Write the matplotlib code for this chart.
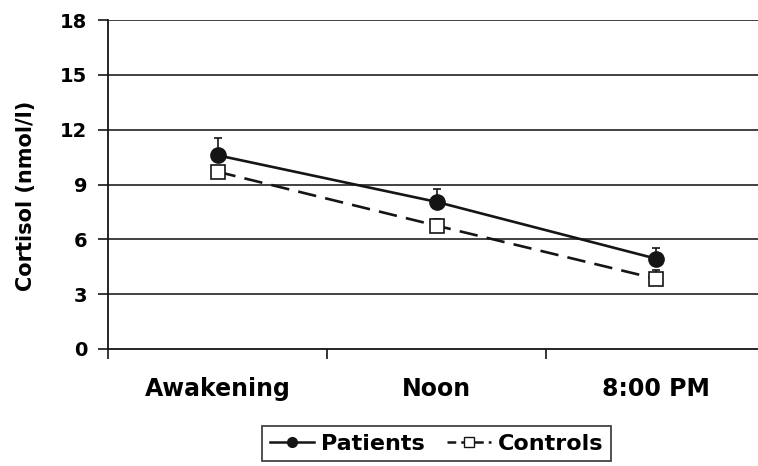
import matplotlib
matplotlib.use("Agg")
import matplotlib.pyplot as plt
import numpy as np
from matplotlib.lines import Line2D

times = ["Awakening", "Noon", "8:00 PM"]
patients = [10.6, 8.05, 4.95]
patients_err = [0.95, 0.7, 0.6]
controls = [9.7, 6.75, 3.85]
controls_err = [0.25, 0.35, 0.45]
yticks = [0, 3, 6, 9, 12, 15, 18]

ink = "#151515"

fig = plt.figure(figsize=(7.58, 4.66), dpi=100)
ax = fig.add_axes([108 / 758, 117 / 466, 657 / 758, 329 / 466])

x = np.arange(len(times)) + 0.5
zeros = np.zeros(len(times))

# upper-only error bars
ax.errorbar(x, patients, yerr=[zeros, patients_err], fmt="none",
            ecolor=ink, elinewidth=1.2, capsize=3, capthick=1.2, zorder=3)
ax.errorbar(x, controls, yerr=[zeros, controls_err], fmt="none",
            ecolor=ink, elinewidth=1.2, capsize=3, capthick=1.2, zorder=3)
ax.plot(x, patients, color=ink, lw=1.9, marker="o", ms=11,
        mfc=ink, mec=ink, zorder=4)
ax.plot(x, controls, color=ink, lw=1.9, dashes=(7, 3.5), marker="s", ms=10,
        mfc="white", mec=ink, mew=1.2, zorder=4)

ax.set_xlim(0, len(times))
ax.set_ylim(0, 18)
ax.set_yticks(yticks)
ax.set_yticklabels([str(v) for v in yticks], fontsize=14, fontweight="bold")
ax.tick_params(axis="y", direction="out", length=7, width=1.2, pad=8, color=ink)

ax.set_xticks(range(len(times) + 1))
ax.set_xticklabels([])
ax.set_xticks(x, minor=True)
ax.set_xticklabels(times, minor=True, fontsize=17, fontweight="bold")
ax.tick_params(axis="x", which="major", direction="out", length=7, width=1.2, color=ink)
ax.tick_params(axis="x", which="minor", length=0, pad=20)

for v in yticks[1:]:
    ax.axhline(v, color="#333333", lw=1.3, zorder=1)

for s in ["top", "right"]:
    ax.spines[s].set_visible(False)
for s in ["left", "bottom"]:
    ax.spines[s].set_color(ink)
    ax.spines[s].set_linewidth(1.3)

ax.set_ylabel("Cortisol (nmol/l)", fontsize=15, fontweight="bold")
ax.yaxis.set_label_coords(-0.11, 0.465)

handles = [
    Line2D([], [], color=ink, lw=1.8, marker="o", ms=7, mfc=ink),
    Line2D([], [], color=ink, lw=1.8, dashes=(3.5, 2), marker="s", ms=7,
           mfc="white", mec=ink),
]
leg = ax.legend(handles, ["Patients", "Controls"], loc="upper center",
                bbox_to_anchor=(0.5, -0.2), ncol=2, frameon=True, fancybox=False,
                edgecolor=ink, handlelength=2.0, handletextpad=0.3,
                columnspacing=1.0, borderpad=0.35,
                prop={"size": 16, "weight": "bold"})
leg.get_frame().set_linewidth(1.3)

fig.savefig("out.png", dpi=100)
